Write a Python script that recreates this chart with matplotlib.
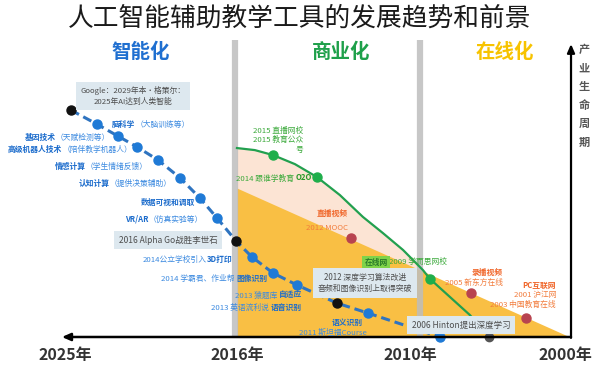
import matplotlib
matplotlib.use('Agg')
import matplotlib.pyplot as plt
import numpy as np
from matplotlib.offsetbox import TextArea, HPacker, AnnotationBbox

plt.rcParams['font.family'] = ['Noto Sans CJK SC', 'DejaVu Sans']

# x = year (timeline is drawn right-to-left), y = industry life-cycle level (0-100)
tick_years = [2025, 2016, 2010, 2000]
tick_labels = ['2025年', '2016年', '2010年', '2000年']

# 智能化 (AI) milestones along the dashed line
ai_years = [2024.69, 2023.33, 2022.23, 2021.23, 2020.13, 2018.98, 2017.94, 2017.05,
            2016.05, 2015.48, 2014.75, 2013.92, 2012.53, 2011.46, 2008.06]
ai_levels = [77.7, 72.9, 68.8, 65.1, 60.6, 54.5, 47.6, 40.8,
             32.9, 27.4, 21.9, 17.8, 11.6, 8.2, 0.0]
ai_black = [0, 8, 12]  # Google prediction, AlphaGo, deep-learning breakthrough

# 商业化 (commercial) curve
biz_years = [2016.0, 2015.38, 2014.75, 2013.99, 2013.23, 2012.43, 2011.63, 2010.94,
             2010.24, 2009.16, 2008.71, 2007.42, 2006.13, 2005.35]
biz_levels = [64.7, 64.0, 62.3, 59.2, 54.8, 48.6, 41.1, 35.6,
              29.8, 22.9, 19.9, 13.7, 7.5, 2.7]
biz_dots = [2, 4, 10]

# 在线化 (online) edge and its milestones
online_years = [2016.0, 2010.0, 1999.68]
online_levels = [51.0, 24.5, 0.0]
online_dot_years = [2012.05, 2006.06, 2002.52]
online_dot_levels = [33.9, 15.1, 6.5]

hinton_year = 2004.9
stage_bounds = [2016.1, 2009.35]

# piecewise timeline (stages are not equally spaced in the picture)
year_knots = [1990, 2000, 2010, 2016, 2025, 2035]
pos_knots = [-120, 35, 190, 363, 535, 726]


def fwd(y):
    return np.interp(y, year_knots, pos_knots)


def inv(p):
    return np.interp(p, pos_knots, year_knots)


fig = plt.figure(figsize=(6, 3.77), dpi=100)
ax = fig.add_axes([0, 0, 1, 1])
ax.set_xscale('function', functions=(fwd, inv))
ax.set_xlim(2028.40, 1997.74)
ax.set_ylim(-13.7, 115.4)
for s in ax.spines.values():
    s.set_visible(False)
ax.spines['bottom'].set_position(('data', 0))
ax.set_yticks([])
ax.set_xticks(tick_years, labels=tick_labels)
ax.minorticks_off()
ax.tick_params(axis='x', length=0, pad=7, labelsize=11.5, labelcolor='#333333')
for t in ax.get_xticklabels():
    t.set_fontweight('bold')

# areas
ax.fill_between(biz_years, biz_levels, 0, color='#fce4d4', lw=0, zorder=1)
ax.fill_between(online_years, online_levels, 0, color='#f9bf44', lw=0, zorder=2)
ax.vlines(stage_bounds, 0, 101.7, colors='#bdbdbd', lw=4.5, alpha=0.85, zorder=3)

# lines
ax.plot(biz_years, biz_levels, color='#22a04f', lw=1.6, zorder=4)
ax.plot(ai_years, ai_levels, color='#2f74c0', lw=2.2, dashes=(3, 1.6), zorder=4)

# dots
blue_idx = [i for i in range(len(ai_years)) if i not in ai_black]
ax.plot([ai_years[i] for i in blue_idx], [ai_levels[i] for i in blue_idx], 'o',
        color='#1f7ad6', ms=6.5, zorder=5)
ax.plot([ai_years[i] for i in ai_black], [ai_levels[i] for i in ai_black], 'o',
        color='#111111', ms=6.5, zorder=5)
ax.plot([biz_years[i] for i in biz_dots], [biz_levels[i] for i in biz_dots], 'o',
        color='#1fae4b', ms=6.5, zorder=5)
ax.plot(online_dot_years, online_dot_levels, 'o', color='#b8434f', ms=6.5, zorder=5)
ax.plot([hinton_year], [0], 'o', color='#555555', ms=6, zorder=6)

# axes arrows
ax.annotate('', xy=(2025.16, 0), xytext=(1999.61, 0),
            arrowprops=dict(arrowstyle='-|>,head_length=0.5,head_width=0.22',
                            lw=1.8, color='black', shrinkA=0, shrinkB=0), zorder=6)
ax.annotate('', xy=(1999.61, 100.3), xytext=(1999.61, -0.3),
            arrowprops=dict(arrowstyle='-|>,head_length=0.5,head_width=0.22',
                            lw=1.6, color='black', shrinkA=0, shrinkB=0), zorder=6)

# overlay in pixel units for annotations
ov = fig.add_axes([0, 0, 1, 1], label='overlay')
ov.set_xlim(0, 600)
ov.set_ylim(377, 0)
ov.axis('off')


def rich(x, y, parts, size=5.6, align='right'):
    boxes = [TextArea(t, textprops=dict(color=c, fontsize=size, fontweight=w))
             for t, c, w in parts]
    pack = HPacker(children=boxes, pad=0, sep=0, align='baseline')
    frac = {'left': 0, 'center': 0.5, 'right': 1}[align]
    ab = AnnotationBbox(pack, (x, y), xycoords='data', box_alignment=(frac, 0.5),
                        frameon=False, pad=0)
    ov.add_artist(ab)


def gbox(x, y, s, size=5.9):
    ov.text(x, y, s, ha='center', va='center', fontsize=size, color='#4d4d4d',
            linespacing=1.4,
            bbox=dict(boxstyle='square,pad=0.55', fc='#dde8ef', ec='none'))


ov.text(300, 19, '人工智能辅助教学工具的发展趋势和前景', ha='center', va='center',
        fontsize=18.5, color='#1a1a1a', fontweight='light')
ov.text(141, 52, '智能化', ha='center', va='center', fontsize=14, fontweight='bold', color='#1f6fd0')
ov.text(341, 52, '商业化', ha='center', va='center', fontsize=14, fontweight='bold', color='#1ea04a')
ov.text(505, 52, '在线化', ha='center', va='center', fontsize=14, fontweight='bold', color='#f7c300')
ov.text(584, 96, '\n'.join('产业生命周期'), ha='center', va='center', fontsize=8,
        fontweight='bold', color='#555555', linespacing=1.55)

B1, B2 = '#1c6ccc', '#3c8ae0'
rich(112, 124, [('脑科学', B1, 'bold'), ('（大脑训练等）', B2, 'normal')], align='left')
rich(110, 137, [('基因技术', B1, 'bold'), ('（天赋检测等）', B2, 'normal')])
rich(132, 149, [('高级机器人技术', B1, 'bold'), ('（陪伴教学机器人）', B2, 'normal')])
rich(148, 166, [('情感计算', B1, 'bold'), ('（学生情绪反馈）', B2, 'normal')])
rich(172, 183, [('认知计算', B1, 'bold'), ('（提供决策辅助）', B2, 'normal')])
rich(195, 202, [('数据可视和调取', B1, 'bold')])
rich(203, 219, [('VR/AR', B1, 'bold'), ('（仿真实验等）', B2, 'normal')])
rich(232, 259, [('2014公立学校引入', B2, 'normal'), ('3D打印', B1, 'bold')])
rich(267, 278, [('2014 学霸君、作业帮 ', B2, 'normal'), ('图像识别', B1, 'bold')])
rich(302, 295, [('2013 猿题库 ', B2, 'normal'), ('自适应', B1, 'bold')])
rich(302, 307, [('2013 英语流利说 ', B2, 'normal'), ('语音识别', B1, 'bold')])
rich(347, 322, [('语义识别', B1, 'bold')], align='center')
rich(333, 333, [('2011 斯坦福Course', B2, 'normal')], align='center')

gbox(133, 96, 'Google：2029年本·格策尔：\n2025年AI达到人类智能', size=5.6)
gbox(168, 240, '2016 Alpha Go战胜李世石', size=6.1)
gbox(365, 283, '2012 深度学习算法改进\n音频和图像识别上取得突破', size=5.7)
gbox(461, 325, '2006 Hinton提出深度学习', size=6.1)

G = '#3aa93a'
rich(303, 131, [('2015 直播网校', G, 'normal')])
rich(303, 140, [('2015 教育公众', G, 'normal')])
rich(303, 150, [('号', G, 'normal')])
rich(312, 178, [('2014 跟谁学教育 ', G, 'normal'), ('O2O', '#2a9a2a', 'bold')])
rich(447, 262, [('2009 学而思网校', G, 'normal')])
ov.text(376, 262, '在线网', ha='center', va='center', fontsize=5.6, color='#2a7a2a',
        fontweight='bold', bbox=dict(boxstyle='square,pad=0.25', fc='#7fd34a', ec='none'))

O1, O2 = '#f0662a', '#f27c3c'
rich(348, 213, [('直播视频', O1, 'bold')])
rich(348, 228, [('2012 MOOC', O2, 'normal')])
rich(503, 272, [('录播视频', O1, 'bold')])
rich(503, 283, [('2005 新东方在线', O2, 'normal')])
rich(556, 285, [('PC互联网', O1, 'bold')])
rich(556, 295, [('2001 沪江网', O2, 'normal')])
rich(556, 305, [('2003 中国教育在线', O2, 'normal')])

fig.savefig('out.png', dpi=100)
